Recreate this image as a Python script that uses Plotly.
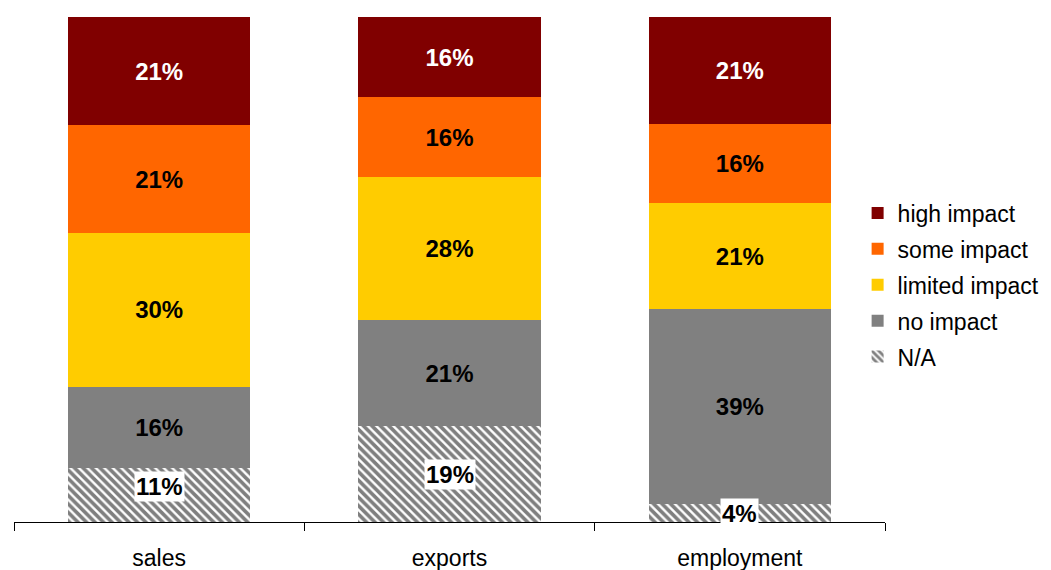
import plotly.graph_objects as go

# Survey shares (%) per area, stacked bottom to top
categories = ["sales", "exports", "employment"]
na_share = [10.7, 19.0, 3.5]
no_impact = [16.1, 21.0, 38.6]
limited_impact = [30.4, 28.3, 21.0]
some_impact = [21.4, 15.8, 15.8]
high_impact = [21.4, 15.9, 21.1]

FONT = "Liberation Sans, Arial, sans-serif"

fig = go.Figure()

# N/A segment: black diagonal hatch on white
fig.add_trace(go.Bar(
    name="N/A", x=categories, y=na_share,
    marker=dict(color="white", line=dict(width=0),
                pattern=dict(shape="\\", fgcolor="black", bgcolor="white",
                             size=6, solidity=0.6)),
    legendgroup="na", legendrank=5, hoverinfo="skip",
))

segments = [
    ("no impact", no_impact, "#808080", "black", 4),
    ("limited impact", limited_impact, "#FFCC00", "black", 3),
    ("some impact", some_impact, "#FF6600", "black", 2),
    ("high impact", high_impact, "#800000", "white", 1),
]
for name, vals, color, txtcolor, rank in segments:
    fig.add_trace(go.Bar(
        name=name, x=categories, y=vals,
        marker=dict(color=color, line=dict(width=0)),
        texttemplate="%{y:.0f}%", textposition="inside",
        insidetextanchor="middle", textangle=0,
        textfont=dict(family=FONT, size=24, color=txtcolor, weight="bold"),
        legendgroup=name, legendrank=rank, hoverinfo="skip",
    ))

# N/A values sit on a white box above the hatching
na_label_shift = [8, 0, 0]
for cat, v, shift in zip(categories, na_share, na_label_shift):
    fig.add_annotation(
        x=cat, y=v / 2, xref="x", yref="y", yshift=shift,
        text=f"<b>{v:.0f}%</b>", showarrow=False,
        font=dict(family=FONT, size=24, color="black"),
        bgcolor="white", borderpad=1,
    )

fig.update_layout(
    width=1051, height=570,
    barmode="stack", bargap=0.373,
    plot_bgcolor="white", paper_bgcolor="white",
    margin=dict(l=14, r=166, t=17, b=48, autoexpand=False),
    font=dict(family=FONT, size=23, color="black"),
    legend=dict(
        traceorder="grouped", tracegroupgap=3,
        xref="container", yref="container",
        x=0.816, y=0.500, xanchor="left", yanchor="middle",
        font=dict(family=FONT, size=23, color="black"),
        bgcolor="rgba(0,0,0,0)",
    ),
    xaxis=dict(
        showline=True, linecolor="black", linewidth=1,
        ticks="outside", ticklen=8, tickcolor="black", tickson="boundaries",
        tickfont=dict(family=FONT, size=23, color="black"),
        ticklabelstandoff=15, automargin=False,
        showgrid=False, zeroline=False, range=[-0.5, 2.5],
    ),
    yaxis=dict(visible=False, range=[0, 100], showgrid=False, zeroline=False),
)

fig.write_html("out.html")
